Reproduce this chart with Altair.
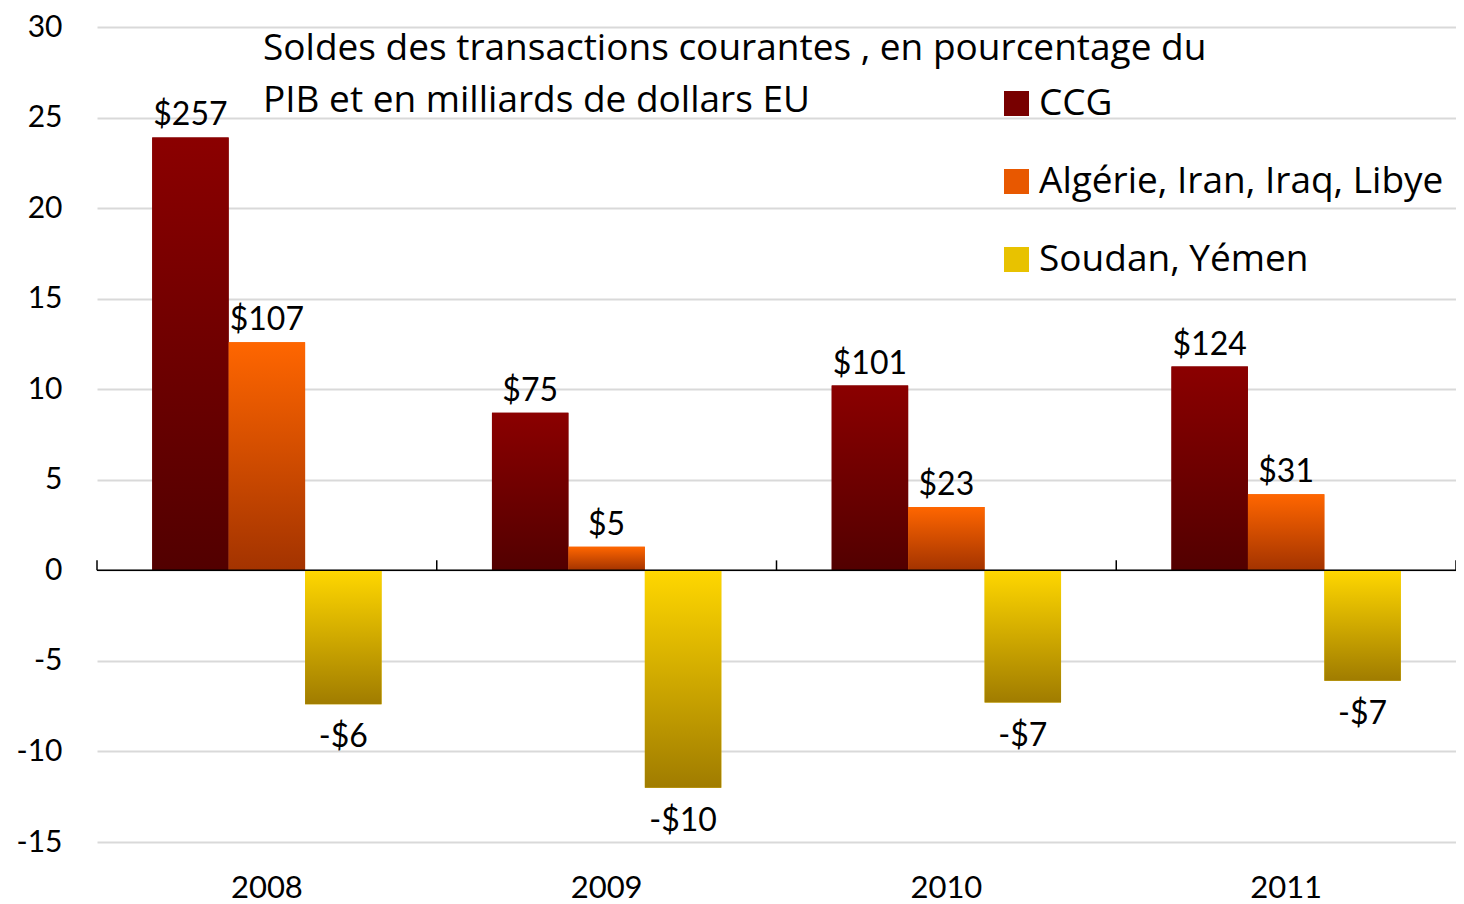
import altair as alt
import pandas as pd

years = ["2008", "2009", "2010", "2011"]
series = ["CCG", "Algérie, Iran, Iraq, Libye", "Soudan, Yémen"]
ccg_pct = [23.9, 8.7, 10.2, 11.25]
agl_pct = [12.6, 1.3, 3.5, 4.2]
sy_pct = [-7.4, -12.0, -7.3, -6.1]
ccg_usd = ["$257", "$75", "$101", "$124"]
agl_usd = ["$107", "$5", "$23", "$31"]
sy_usd = ["-$6", "-$10", "-$7", "-$7"]
title_lines = ["Soldes des transactions courantes , en pourcentage du",
               "PIB et en milliards de dollars  EU"]
y_ticks = list(range(-15, 31, 5))
group_bounds = [0, 1, 2, 3, 4]

solid_colors = ["#780000", "#e85800", "#e8c200"]
grad_colors = {
    "CCG": ("#8b0000", "#520000"),
    "Algérie, Iran, Iraq, Libye": ("#ff6600", "#a33300"),
    "Soudan, Yémen": ("#ffd700", "#a07c00"),
}

rows = []
for s, vals, labs in zip(series, [ccg_pct, agl_pct, sy_pct], [ccg_usd, agl_usd, sy_usd]):
    for yr, v, lab in zip(years, vals, labs):
        rows.append({"year": yr, "series": s, "value": v, "label": lab})
df = pd.DataFrame(rows)

NUM_FONT = "Lato"
TXT_FONT = "Open Sans"

X = alt.X("year:N", sort=years,
          scale=alt.Scale(paddingInner=0.325, paddingOuter=0.1625),
          axis=alt.Axis(title=None, labelAngle=0, labelFontSize=31, labelFont=NUM_FONT,
                        labelColor="black", domain=False, ticks=False, tickSize=0,
                        labelPadding=31, grid=False))
XO = alt.XOffset("series:N", scale=alt.Scale(domain=series))
Y = alt.Y("value:Q",
          scale=alt.Scale(domain=[-15, 30], nice=False, zero=False),
          axis=alt.Axis(title=None, values=y_ticks, grid=True, gridColor="#d9d9d9",
                        gridWidth=2, domain=False, ticks=False, tickSize=0,
                        labelFontSize=30, labelFont=NUM_FONT, labelColor="black",
                        labelPadding=35, labelExpr="'' + datum.value"))

base = alt.Chart(df)

legend_bars = base.mark_bar().encode(
    x=X, xOffset=XO, y=Y,
    color=alt.Color("series:N",
                    scale=alt.Scale(domain=series, range=solid_colors),
                    legend=alt.Legend(title=None, orient="none", legendX=901, legendY=58,
                                      symbolType="square", symbolSize=625,
                                      symbolStrokeWidth=0, labelFontSize=37,
                                      labelFont=TXT_FONT, labelColor="black",
                                      labelOffset=4, rowPadding=40, padding=0,
                                      labelLimit=600)),
)

grad_layers = []
for s in series:
    top, bottom = grad_colors[s]
    g = {"gradient": "linear", "x1": 0, "y1": 0, "x2": 0, "y2": 1,
         "stops": [{"offset": 0, "color": top}, {"offset": 1, "color": bottom}]}
    grad_layers.append(
        base.transform_filter(alt.datum.series == s)
        .mark_bar(color=g)
        .encode(x=X, xOffset=XO, y=Y)
    )

pos_labels = base.transform_filter(alt.datum.value > 0).mark_text(
    baseline="alphabetic", dy=-12, fontSize=32, font=NUM_FONT, color="black"
).encode(x=X, xOffset=XO, y=Y, text="label:N")

neg_labels = base.transform_filter(alt.datum.value < 0).mark_text(
    baseline="alphabetic", dy=43, fontSize=32, font=NUM_FONT, color="black"
).encode(x=X, xOffset=XO, y=Y, text="label:N")

main = alt.layer(legend_bars, *grad_layers, pos_labels, neg_labels)

zero_line = alt.Chart(pd.DataFrame({"z": [0]})).mark_rule(
    color="black", strokeWidth=1.5).encode(y=alt.Y("z:Q"))

group_ticks = alt.Chart(pd.DataFrame({"b": group_bounds})).mark_rule(
    color="black", strokeWidth=1.5).encode(
    x=alt.X("b:Q", scale=alt.Scale(domain=[0, 4], nice=False, zero=False), axis=None),
    y=alt.datum(0), y2=alt.datum(0.55))

title = alt.Chart(pd.DataFrame({"t": [0]})).mark_text(
    align="left", baseline="alphabetic", fontSize=37, font=TXT_FONT, lineHeight=52,
    color="black"
).encode(x=alt.value(166), y=alt.value(33), text=alt.value(title_lines))

chart = alt.layer(
    main, zero_line, group_ticks, title
).resolve_scale(x="independent").properties(
    width=1359, height=815,
    padding={"left": 89, "top": 19, "right": 0, "bottom": 62},
    autosize=alt.AutoSizeParams(type="none"),
    background="white",
).configure_view(stroke=None)

chart.save("out.html", embed_options={"renderer": "svg", "actions": False})
